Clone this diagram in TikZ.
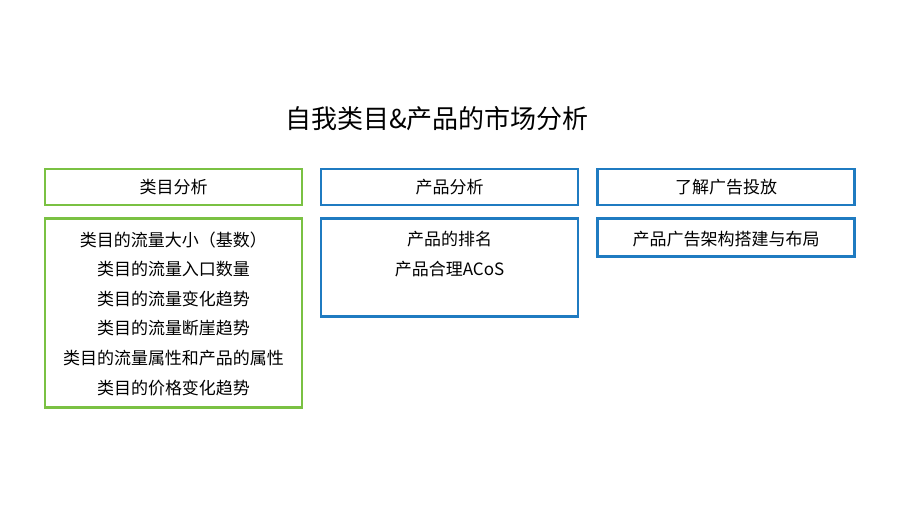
\documentclass[tikz,border=0pt]{standalone}
\usepackage{fontspec}
\setmainfont{Liberation Serif}
\newfontfamily\cjk{Noto Sans CJK SC}
\definecolor{catgreen}{HTML}{7AC143}
\definecolor{prodblue}{HTML}{1F7BC1}
\usetikzlibrary{positioning}
\begin{document}
\begin{tikzpicture}[x=1pt, y=-1pt, every node/.style={font=\cjk\fontsize{17}{29.6}\selectfont},
    hdr/.style={draw, line width=2.6pt, minimum width=257pt, minimum height=36pt, inner sep=0pt},
    bdy/.style={draw, line width=2.6pt, minimum width=257pt, inner sep=0pt, align=center, anchor=north}]
    \useasboundingbox (0,0) rectangle (900,506);
    % Title
    \node[font=\cjk\fontsize{26}{30}\selectfont] (title) at (437,119) {自我类目\&产品的市场分析};
    % Category column
    \node[hdr, draw=catgreen] (cathdr) at (173.5,187) {类目分析};
    \node[bdy, draw=catgreen, minimum height=189pt] (catbody) at (173.5,217) {};
    \node[anchor=north, align=center] (cattext) at (173.5,228) {类目的流量大小（基数）\\
        类目的流量入口数量\\
        类目的流量变化趋势\\
        类目的流量断崖趋势\\
        类目的流量属性和产品的属性\\
        类目的价格变化趋势};
    % Product column
    \node[hdr, draw=prodblue] (prodhdr) at (449.5,187) {产品分析};
    \node[bdy, draw=prodblue, minimum height=98pt] (prodbody) at (449.5,217) {};
    \node[anchor=north, align=center] (prodtext) at (449.5,228) {产品的排名\\
        产品合理ACoS};
    % Ads column
    \node[hdr, draw=prodblue] (adhdr) at (726,187) {了解广告投放};
    \node[bdy, draw=prodblue, minimum height=38pt] (adbody) at (726,217) {};
    \node[anchor=north, align=center] (adtext) at (726,228) {产品广告架构搭建与布局};
\end{tikzpicture}
\end{document}
